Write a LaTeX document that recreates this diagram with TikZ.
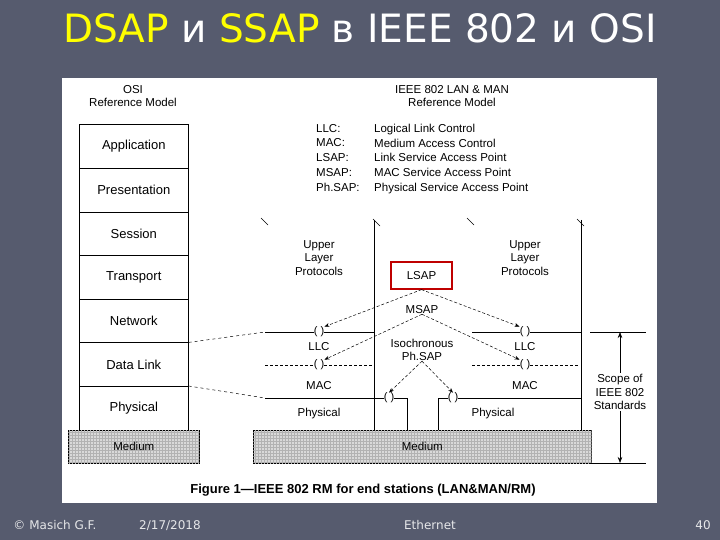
\documentclass[tikz,border=0pt]{standalone}
\usepackage{fontspec}
\setmainfont{Liberation Sans}
\newfontfamily\dv{DejaVu Sans}
\usetikzlibrary{patterns,arrows.meta}
\definecolor{bg}{HTML}{565B6E}
\definecolor{ttl}{HTML}{FFFF00}
\begin{document}
\begin{tikzpicture}[x=1pt,y=-1pt,
  lay/.style={draw,line width=0.6pt,minimum width=109pt,minimum height=43.6pt,font=\fontsize{13}{14}\selectfont,anchor=north west,inner sep=0pt},
  med/.style={draw,line width=0.6pt,fill=gray!30,postaction={pattern=grid,pattern color=gray!60},font=\fontsize{11.5}{12}\selectfont,anchor=north west,inner sep=0pt},
  lbl/.style={font=\fontsize{11.5}{13.5}\selectfont,inner sep=0pt,align=center},
  sap/.style={font=\fontsize{11}{12}\selectfont,inner sep=0pt},
  darr/.style={densely dashed,-{Stealth[length=5pt]},line width=0.5pt},
  ln/.style={line width=0.6pt},
  foot/.style={font=\dv\fontsize{12}{14}\selectfont,text=white!85!bg,anchor=base}]
\useasboundingbox (0,0) rectangle (720,540);
\fill[bg] (0,0) rectangle (720,540);
\fill[white] (62,78) rectangle (657,503);
\node[font=\dv\fontsize{39}{44}\selectfont,text=white] (title) at (360,28) {\textcolor{ttl}{DSAP} и \textcolor{ttl}{SSAP} в IEEE 802 и OSI};
% headers
\node[lbl] (h1) at (133,96) {OSI\\Reference Model};
\node[lbl] (h2) at (452,96) {IEEE 802 LAN \& MAN\\Reference Model};
\node[lbl,align=left,anchor=north west,font=\fontsize{11.5}{14.7}\selectfont] (leg1) at (316,124) {LLC:\\MAC:\\LSAP:\\MSAP:\\Ph.SAP:};
\node[lbl,align=left,anchor=north west,font=\fontsize{11.5}{14.7}\selectfont] (leg2) at (374,124) {Logical Link Control\\Medium Access Control\\Link Service Access Point\\MAC Service Access Point\\Physical Service Access Point};
% OSI stack
\node[lay] (app) at (79,124.4) {Application};
\node[lay] (pre) at (79,168) {Presentation};
\node[lay] (ses) at (79,211.6) {Session};
\node[lay] (tra) at (79,255.2) {Transport};
\node[lay] (net) at (79,298.8) {Network};
\node[lay] (dl) at (79,342.4) {Data Link};
\node[lay] (phy) at (79,386) {Physical};
\node[med,minimum width=131pt,minimum height=33pt] (m1) at (68,430) {Medium};
\node[med,minimum width=338pt,minimum height=33pt] (m2) at (253,430) {Medium};
% station verticals
\draw[ln] (374,220) -- (374,430);
\draw[ln] (581,220) -- (581,430);
\foreach \a/\b in {261/218,373/219,467/218,577/219}{\draw[line width=0.5pt] (\a,\b) -- ++(7,7);}
\node[lbl] (ulp1) at (319,258) {Upper\\Layer\\Protocols};
\node[lbl] (ulp2) at (525,258) {Upper\\Layer\\Protocols};
\node[draw=red!75!black,line width=1.2pt,minimum width=61pt,minimum height=27pt,inner sep=0pt,font=\fontsize{11.5}{12}\selectfont] (lsap) at (421.5,275.5) {LSAP};
\node[lbl] (msap) at (422,310) {MSAP};
\node[lbl] (iso) at (422,350) {Isochronous\\Ph.SAP};
% LLC line
\node[sap] (c1) at (319,332) {( )};
\node[sap] (c2) at (525,332) {( )};
\draw[ln] (265,332) -- (c1) -- (374,332);
\draw[ln] (472,332) -- (c2) -- (581,332);
\draw[ln] (590,332) -- (646,332);
\node[lbl] (llc1) at (319,347) {LLC};
\node[lbl] (llc2) at (525,347) {LLC};
% MAC line
\node[sap] (c3) at (319,365) {( )};
\node[sap] (c4) at (525,365) {( )};
\draw[densely dashed,line width=0.5pt] (265,365) -- (c3) -- (372,365);
\draw[densely dashed,line width=0.5pt] (472,365) -- (c4) -- (579,365);
\node[lbl] (mac1) at (319,386) {MAC};
\node[lbl] (mac2) at (525,386) {MAC};
% physical line
\node[sap] (c5) at (389,398) {( )};
\node[sap] (c6) at (453,398) {( )};
\draw[ln] (265,398) -- (c5) -- (407,398) -- (407,430);
\draw[ln] (438,430) -- (438,398) -- (c6) -- (581,398);
\node[lbl] (p1) at (319,414) {Physical};
\node[lbl] (p2) at (493,414) {Physical};
% dashed from OSI
\draw[dashed,line width=0.5pt] (dl.north east) -- (265,332);
\draw[dashed,line width=0.5pt] (phy.north east) -- (265,398);
% SAP arrows
\draw[darr] (lsap.south) -- (c1.north east);
\draw[darr] (lsap.south) -- (c2.north west);
\draw[darr] (msap.south) -- (c3.north east);
\draw[darr] (msap.south) -- (c4.north west);
\draw[darr] (iso.south) -- (c5.north);
\draw[darr] (iso.south) -- (c6.north);
% scope
\coordinate (st) at (620,332);
\coordinate (sb) at (620,463);
\draw[ln,{Stealth[length=6pt]}-{Stealth[length=6pt]}] (st) -- (sb);
\draw[ln] (591,463) -- (646,463);
\node[lbl,fill=white,inner sep=1pt] (scope) at (620,392) {Scope of\\IEEE 802\\Standards};
\node[font=\bfseries\fontsize{13}{15}\selectfont] (cap) at (363,490) {Figure 1---IEEE 802 RM for end stations (LAN\&MAN/RM)};
% footer
\node[foot] (f1) at (55,529) {© Masich G.F.};
\node[foot] (f2) at (170,529) {2/17/2018};
\node[foot] (f3) at (430,529) {Ethernet};
\node[foot] (f4) at (703,529) {40};
\end{tikzpicture}
\end{document}
